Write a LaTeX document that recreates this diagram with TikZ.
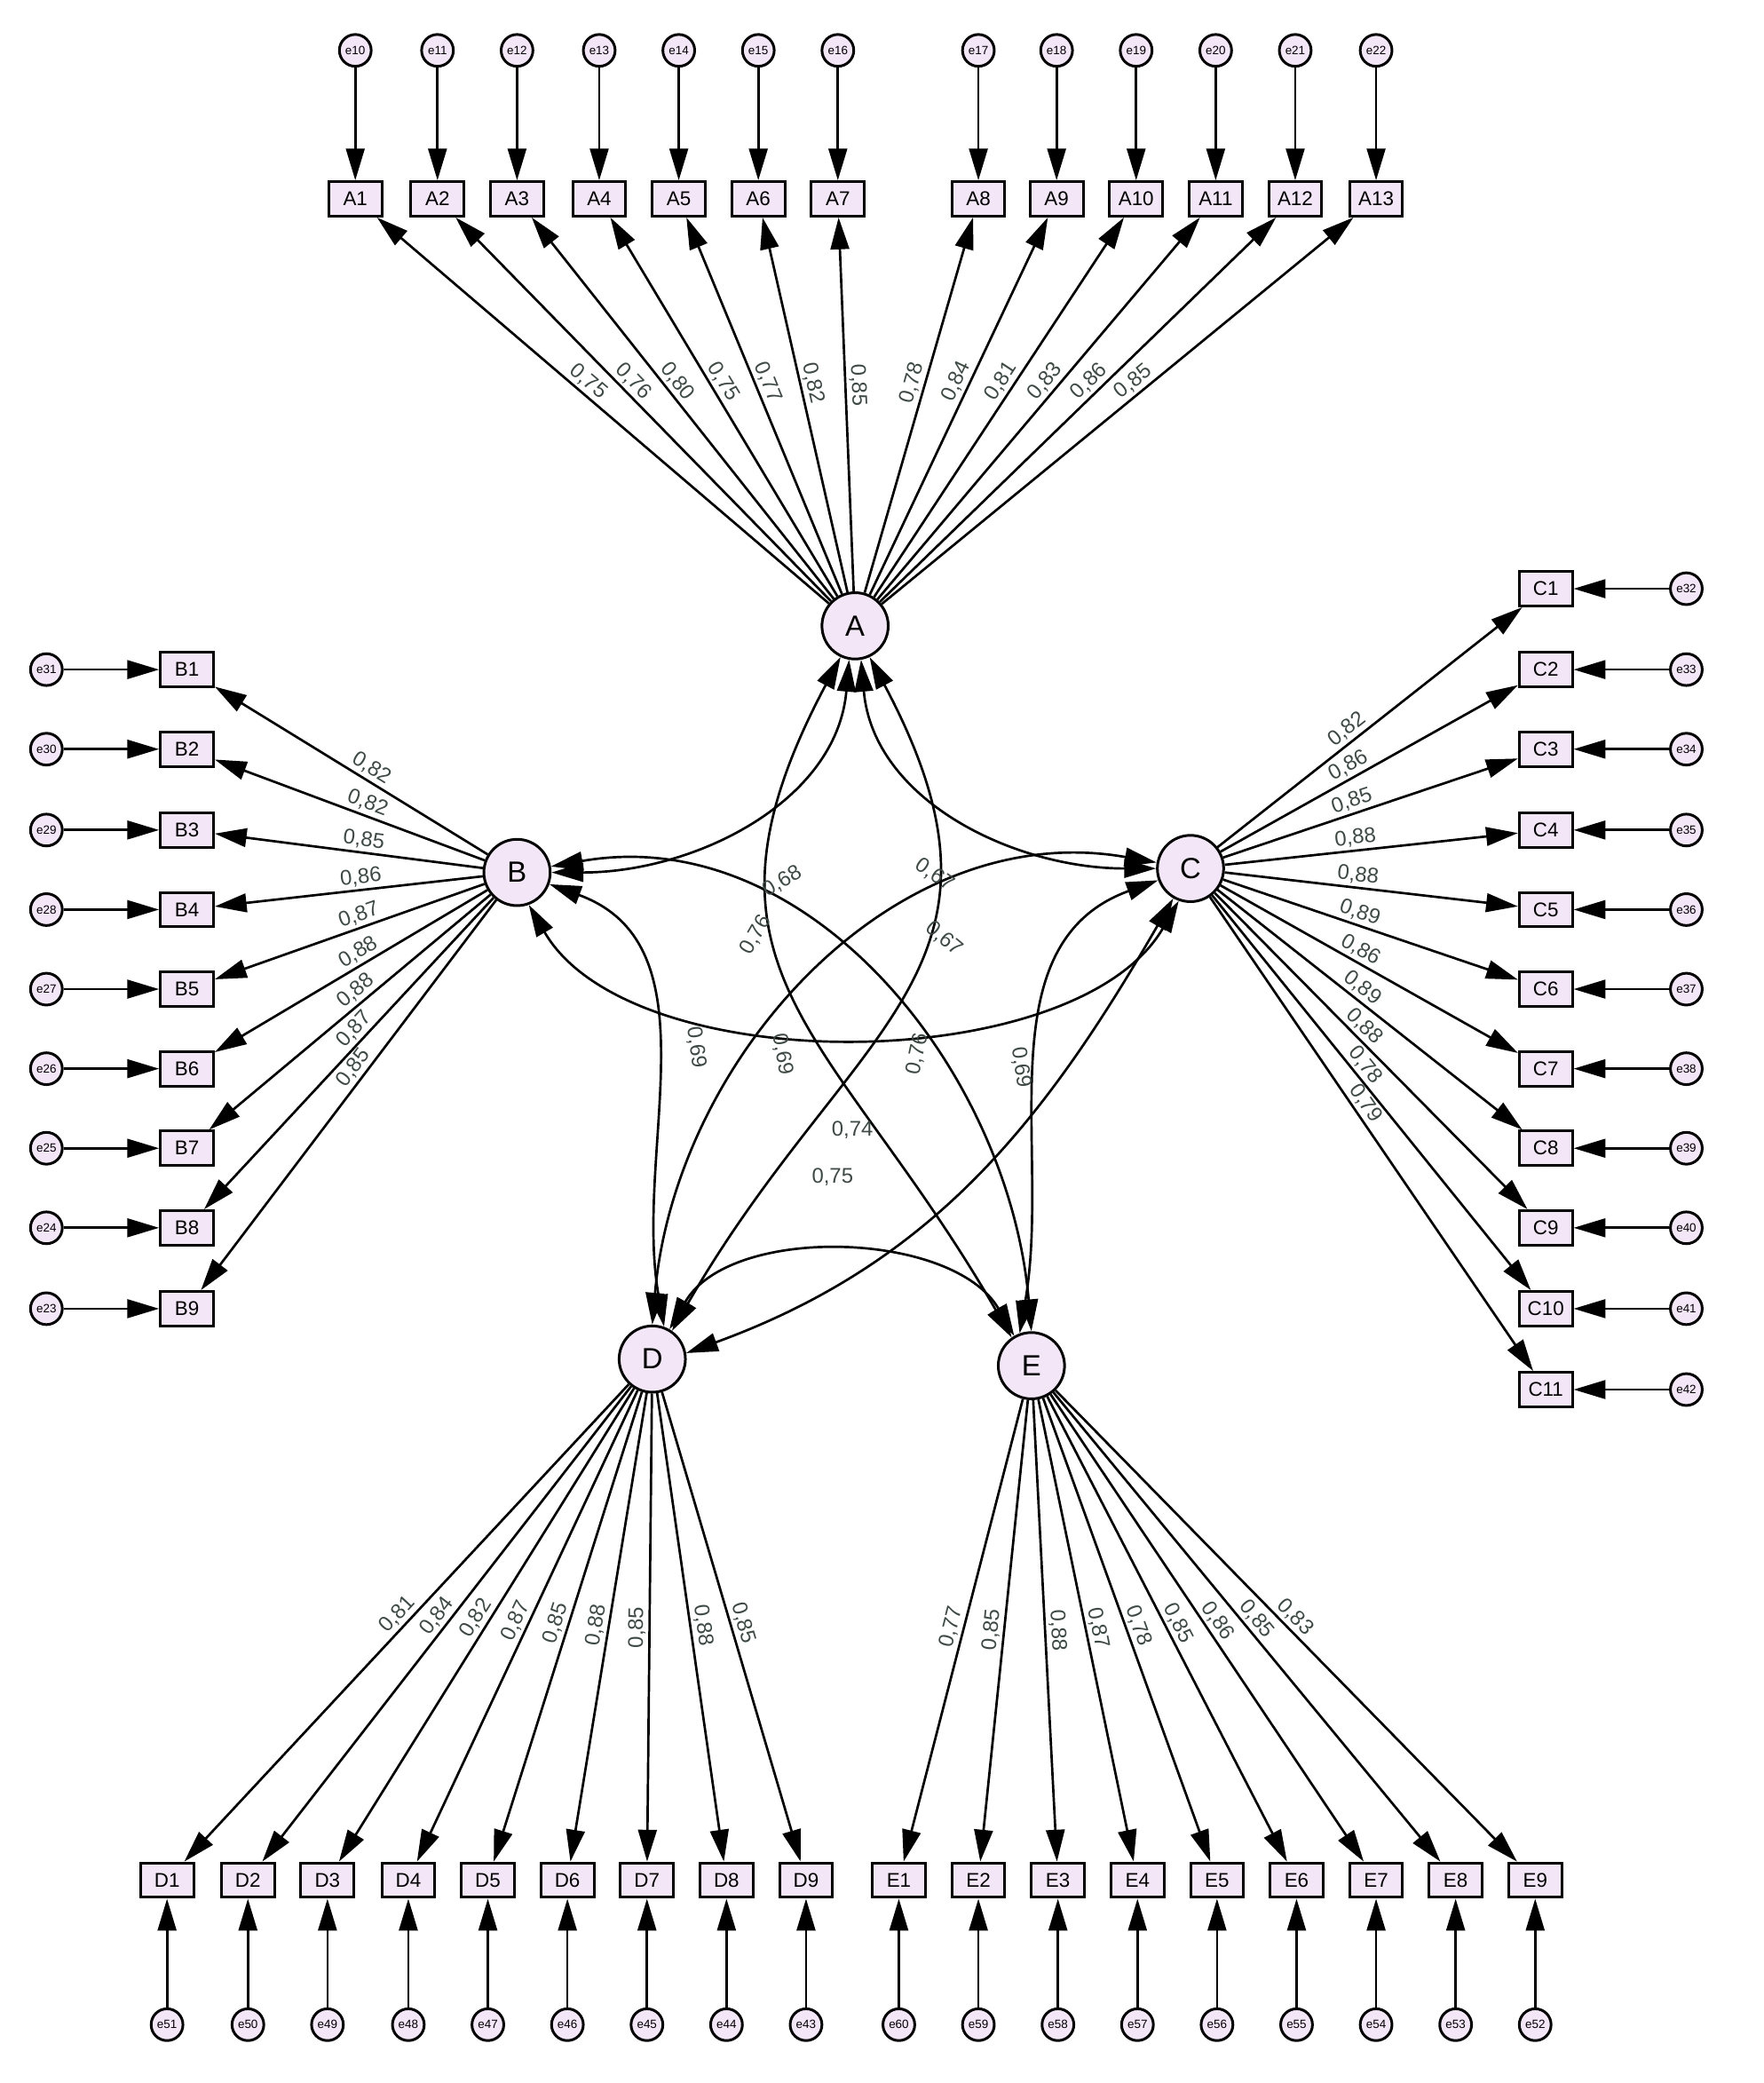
\documentclass[tikz,border=0pt]{standalone}
\usepackage{fontspec}
\setmainfont{Liberation Sans}
\usetikzlibrary{arrows.meta}
\definecolor{fillc}{HTML}{F3E6F6}
\definecolor{numc}{HTML}{3C4A44}
\begin{document}
\begin{tikzpicture}[x=0.5pt,y=-0.5pt,
  obs/.style={draw,line width=1pt,fill=fillc,minimum width=20pt,minimum height=13pt,inner sep=1pt,font=\fontsize{7.5}{8}\selectfont},
  lat/.style={draw,circle,line width=1pt,fill=fillc,minimum size=25pt,inner sep=0pt,font=\fontsize{11}{12}\selectfont},
  err/.style={draw,circle,line width=1pt,fill=fillc,minimum size=12pt,inner sep=0pt,font=\fontsize{4.5}{5}\selectfont},
  arr/.style={line width=0.9pt,-{Triangle[length=12pt,width=7pt]}},
  cov/.style={line width=0.9pt,{Triangle[length=12pt,width=7pt]}-{Triangle[length=12pt,width=7pt]}},
  num/.style={font=\fontsize{8}{9}\selectfont,text=numc,inner sep=1pt}]
\useasboundingbox (0,0) rectangle (1330,1571);
\node[lat] (A) at (645,472) {A};
\node[lat] (B) at (390,658) {B};
\node[lat] (C) at (898,655) {C};
\node[lat] (D) at (492,1025) {D};
\node[lat] (E) at (778,1030) {E};
% A
\foreach \i/\x/\e/\l in {1/268/e10/{0,75},2/330/e11/{0,76},3/390/e12/{0,80},4/452/e13/{0,75},5/512/e14/{0,77},6/572/e15/{0,82},7/632/e16/{0,85},8/738/e17/{0,78},9/797/e18/{0,84},10/857/e19/{0,81},11/917/e20/{0,83},12/977/e21/{0,86},13/1038/e22/{0,85}}{
  \node[obs] (A\i) at (\x,150) {A\i};
  \node[err] (eA\i) at (\x,38) {\e};
  \draw[arr] (eA\i) -- (A\i);
  \draw[arr] (A) -- node[num,pos=0.55,sloped,above] {\l} (A\i);
}
% B
\foreach \i/\y/\e/\l in {1/505/e31/{0,82},2/565/e30/{0,82},3/626/e29/{0,85},4/686/e28/{0,86},5/746/e27/{0,87},6/806/e26/{0,88},7/866/e25/{0,88},8/926/e24/{0,87},9/987/e23/{0,85}}{
  \node[obs] (B\i) at (141,\y) {B\i};
  \node[err] (eB\i) at (35,\y) {\e};
  \draw[arr] (eB\i) -- (B\i);
  \draw[arr] (B) -- node[num,pos=0.45,sloped,above] {\l} (B\i);
}
% C
\foreach \i/\y/\e/\l in {1/444/e32/{0,82},2/505/e33/{0,86},3/565/e34/{0,85},4/626/e35/{0,88},5/686/e36/{0,88},6/746/e37/{0,89},7/806/e38/{0,86},8/866/e39/{0,89},9/926/e40/{0,88},10/987/e41/{0,78},11/1048/e42/{0,79}}{
  \node[obs] (C\i) at (1166,\y) {C\i};
  \node[err] (eC\i) at (1272,\y) {\e};
  \draw[arr] (eC\i) -- (C\i);
  \draw[arr] (C) -- node[num,pos=0.45,sloped,above] {\l} (C\i);
}
% D
\foreach \i/\x/\e/\l in {1/126/e51/{0,81},2/187/e50/{0,84},3/247/e49/{0,82},4/308/e48/{0,87},5/368/e47/{0,85},6/428/e46/{0,88},7/488/e45/{0,85},8/548/e44/{0,88},9/608/e43/{0,85}}{
  \node[obs] (D\i) at (\x,1418) {D\i};
  \node[err] (eD\i) at (\x,1527) {\e};
  \draw[arr] (eD\i) -- (D\i);
  \draw[arr] (D) -- node[num,pos=0.5,sloped,above] {\l} (D\i);
}
% E
\foreach \i/\x/\e/\l in {1/678/e60/{0,77},2/738/e59/{0,85},3/798/e58/{0,88},4/858/e57/{0,87},5/918/e56/{0,78},6/978/e55/{0,85},7/1038/e54/{0,86},8/1098/e53/{0,85},9/1158/e52/{0,83}}{
  \node[obs] (E\i) at (\x,1418) {E\i};
  \node[err] (eE\i) at (\x,1527) {\e};
  \draw[arr] (eE\i) -- (E\i);
  \draw[arr] (E) -- node[num,pos=0.5,sloped,above] {\l} (E\i);
}
% covariances
\draw[cov] (B.east) to[out=0,in=-95] (A.-100);
\draw[cov] (A.-80) to[out=-85,in=180] (C.west);
\draw[cov] (B.-70) to[out=-60,in=-120,looseness=0.8] (C.-110);
\draw[cov] (A.-115) to[out=-118,in=120,looseness=1.3] (E.125);
\draw[cov] (A.-65) to[out=-62,in=60,looseness=1.3] (D.55);
\draw[cov] (B.10) to[out=10,in=95] (E.90);
\draw[cov] (C.170) to[out=170,in=85] (D.90);
\draw[cov] (B.-20) to[out=-20,in=100] (D.70);
\draw[cov] (C.200) to[out=200,in=80] (E.110);
\draw[cov] (C.-120) to[out=-120,in=20] (D.10);
\draw[cov] (D.60) to[out=60,in=120,looseness=0.9] (E.120);
\node[num,rotate=30] (k1) at (590,665) {0,68};
\node[num,rotate=60] (k2) at (570,705) {0,76};
\node[num,rotate=-35] (k3) at (705,660) {0,67};
\node[num,rotate=-40] (k4) at (712,708) {0,67};
\node[num,rotate=-82] (k5) at (525,790) {0,69};
\node[num,rotate=-80] (k6) at (590,795) {0,69};
\node[num,rotate=78] (k7) at (692,795) {0,76};
\node[num,rotate=-82] (k8) at (770,805) {0,69};
\node[num] (k9) at (643,852) {0,74};
\node[num] (k10) at (628,888) {0,75};
\end{tikzpicture}
\end{document}
